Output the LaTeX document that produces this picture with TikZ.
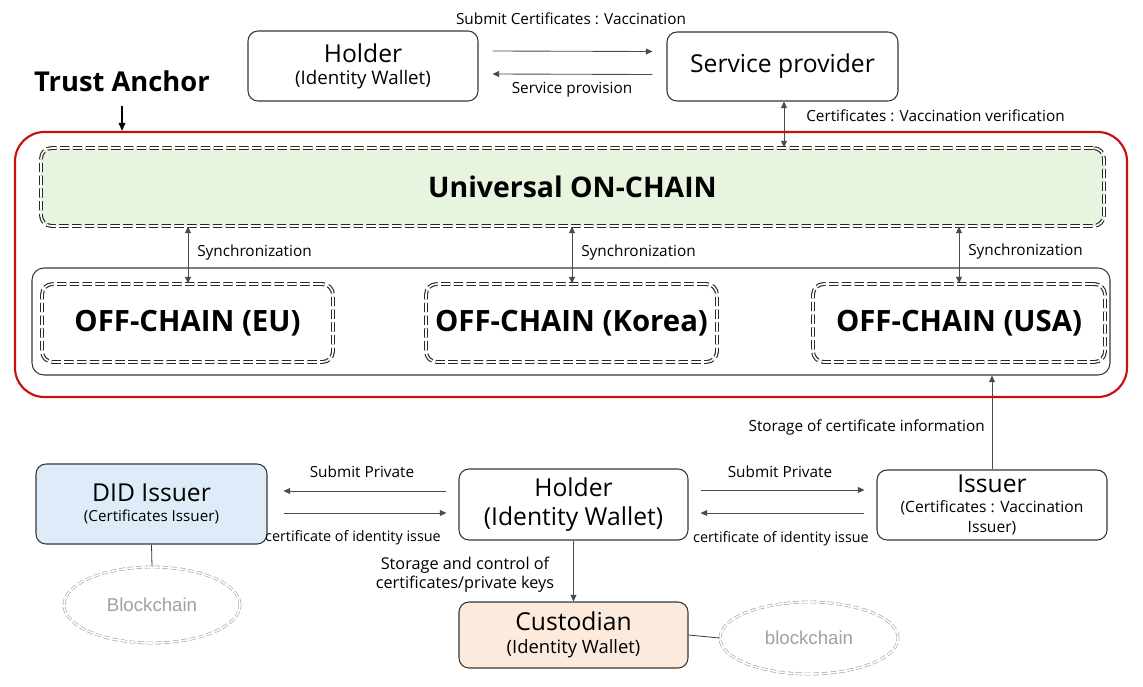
\documentclass[tikz,border=0pt]{standalone}
\usepackage{fontspec}
\setmainfont{Open Sans}
\newfontfamily\arialf{Liberation Sans}
\usetikzlibrary{arrows.meta,calc,shapes.geometric}
\definecolor{redframe}{RGB}{200,16,16}
\definecolor{arrowc}{RGB}{75,75,75}
\definecolor{boxline}{RGB}{55,55,55}
\definecolor{dashline}{RGB}{40,40,40}
\definecolor{ongreen}{RGB}{231,245,222}
\definecolor{didblue}{RGB}{222,236,250}
\definecolor{custpeach}{RGB}{252,235,220}
\definecolor{bcgray}{RGB}{160,160,160}
\tikzset{
  plainbox/.style={draw=boxline, line width=0.8pt, rounded corners=7.5pt, align=center, inner sep=0pt},
  dbldash/.style={draw=dashline, line width=0.85pt, double=white, double distance=1.2pt, dash pattern=on 7pt off 2.6pt, rounded corners=8pt, inner sep=0pt, align=center},
  bcell/.style={ellipse, draw=bcgray, line width=0.45pt, double=white, double distance=1.2pt, dash pattern=on 4.5pt off 2pt, inner sep=0pt, text=bcgray, font=\arialf\fontsize{14}{16}\selectfont},
  arr/.style={draw=arrowc, line width=0.65pt, -{Triangle[length=5pt,width=4.5pt]}},
  darr/.style={draw=arrowc, line width=0.65pt, {Triangle[length=5pt,width=4.5pt]}-{Triangle[length=5pt,width=4.5pt]}},
  lbl/.style={font=\fontsize{11.5}{13}\selectfont, inner sep=0pt},
  bigbold/.style={font=\bfseries\fontsize{22}{24}\selectfont},
}
\begin{document}
\begin{tikzpicture}[x=0.75pt,y=-0.75pt]
\useasboundingbox (0,0) rectangle (1143,686);
% top row
\node[plainbox, minimum width=172.5pt, minimum height=52.5pt, font=\fontsize{18.5}{16.5}\selectfont] (holderT) at (363,66)
  {Holder\\{\fontsize{14}{16}\selectfont (Identity Wallet)}};
\node[plainbox, minimum width=173.25pt, minimum height=51.75pt, font=\fontsize{18.5}{20}\selectfont] (sp) at (782.5,66.5) {Service provider};
\draw[arr] ($(holderT.east)+(14,-15)$) -- ($(sp.west)+(-14,-15)$);
\draw[arr] ($(sp.west)+(-14,8)$) -- ($(holderT.east)+(14,8)$);
\node[lbl] (l1) at (571,19) {Submit Certificates : Vaccination};
\node[lbl] (l2) at (572,90) {Service provision};
% trust anchor
\node[font=\bfseries\fontsize{20.5}{24}\selectfont, inner sep=0pt] (ta) at (122,81) {Trust Anchor};
\node[draw=redframe, line width=1.6pt, rounded corners=22pt, minimum width=834pt, minimum height=198.75pt, inner sep=0pt] (frame) at (571,264.5) {};
\draw[draw=black, line width=1pt, -{Triangle[length=6pt,width=5pt]}] (122,106) -- (frame.north -| 122,0);
% on-chain
\node[dbldash, fill=ongreen, minimum width=797.25pt, minimum height=58.5pt, font=\bfseries\fontsize{21.3}{24}\selectfont] (onchain) at (572.5,187) {Universal ON-CHAIN};
\draw[darr] (sp.south -| 784,0) -- (onchain.north -| 784,0);
\node[lbl, anchor=west] (l3) at (806,116) {Certificates : Vaccination verification};
% off-chain container
\node[plainbox, minimum width=808.5pt, minimum height=80.25pt, rounded corners=9pt] (offc) at (571,321.5) {};
\node[dbldash, minimum width=218.25pt, minimum height=58.5pt, bigbold] (eu) at (187.5,323) {OFF-CHAIN (EU)};
\node[dbldash, minimum width=218.25pt, minimum height=58.5pt, bigbold] (korea) at (571.5,323) {OFF-CHAIN (Korea)};
\node[dbldash, minimum width=219pt, minimum height=58.5pt, bigbold] (usa) at (959,323) {OFF-CHAIN (USA)};
\coordinate (s1) at (188,0);
\coordinate (s2) at (572,0);
\coordinate (s3) at (959,0);
\draw[darr] (onchain.south -| s1) -- (eu.north -| s1);
\draw[darr] (onchain.south -| s2) -- (korea.north -| s2);
\draw[darr] (onchain.south -| s3) -- (usa.north -| s3);
\node[lbl, anchor=west] (sy1) at (197,253) {Synchronization};
\node[lbl, anchor=west] (sy2) at (581,253) {Synchronization};
\node[lbl, anchor=west] (sy3) at (968,252) {Synchronization};
% bottom row
\node[plainbox, fill=didblue, minimum width=173.25pt, minimum height=60pt, font=\fontsize{18.5}{14.5}\selectfont] (did) at (151.5,504)
  {DID Issuer\\{\fontsize{11.4}{13}\selectfont (Certificates Issuer)}};
\node[plainbox, minimum width=171.75pt, minimum height=53.25pt, font=\fontsize{18.5}{22}\selectfont] (holderB) at (573.5,504.5)
  {Holder\\(Identity Wallet)};
\node[plainbox, minimum width=172.5pt, minimum height=52.5pt, font=\fontsize{18.5}{15}\selectfont] (issuer) at (992,505)
  {Issuer\\{\fontsize{11.7}{13}\selectfont (Certificates : Vaccination}\\{\fontsize{11.7}{13}\selectfont Issuer)}};
\node[plainbox, fill=custpeach, minimum width=171.75pt, minimum height=49.5pt, font=\fontsize{18.5}{17}\selectfont] (cust) at (573.5,635)
  {Custodian\\{\fontsize{13.8}{15}\selectfont (Identity Wallet)}};
\node[bcell, minimum width=132pt, minimum height=57pt] (bc1) at (152,605) {Blockchain};
\node[bcell, minimum width=133.5pt, minimum height=54pt] (bc2) at (809,638) {blockchain};
\draw[draw=boxline, line width=0.6pt] (did.south) -- (bc1.north);
\draw[draw=boxline, line width=0.6pt] (cust.east) -- (bc2.west);
% did <-> holder
\draw[arr] ($(holderB.west)+(-12,-13.5)$) -- ($(did.east)+(16,-13)$);
\draw[arr] ($(did.east)+(16,9)$) -- ($(holderB.west)+(-12,8.5)$);
\node[lbl] (l4) at (362,472) {Submit Private};
\node[lbl, font=\fontsize{10.8}{13}\selectfont] (l5) at (353,538) {certificate of identity issue};
% holder <-> issuer
\draw[arr] ($(holderB.east)+(12,-14.5)$) -- ($(issuer.west)+(-12,-15)$);
\draw[arr] ($(issuer.west)+(-12,8)$) -- ($(holderB.east)+(12,8.5)$);
\node[lbl] (l6) at (780,472) {Submit Private};
\node[lbl, font=\fontsize{10.8}{13}\selectfont] (l7) at (781,539) {certificate of identity issue};
% holder -> custodian
\draw[arr] (holderB.south) -- (cust.north);
\node[lbl, align=center, font=\fontsize{12.2}{14.5}\selectfont] (l8) at (465,575) {Storage and control of\\certificates/private keys};
% issuer -> off-chain
\draw[arr] (issuer.north) -- (offc.south -| issuer.north);
\node[lbl, anchor=east] (l9) at (985,427) {Storage of certificate information};
\end{tikzpicture}
\end{document}
